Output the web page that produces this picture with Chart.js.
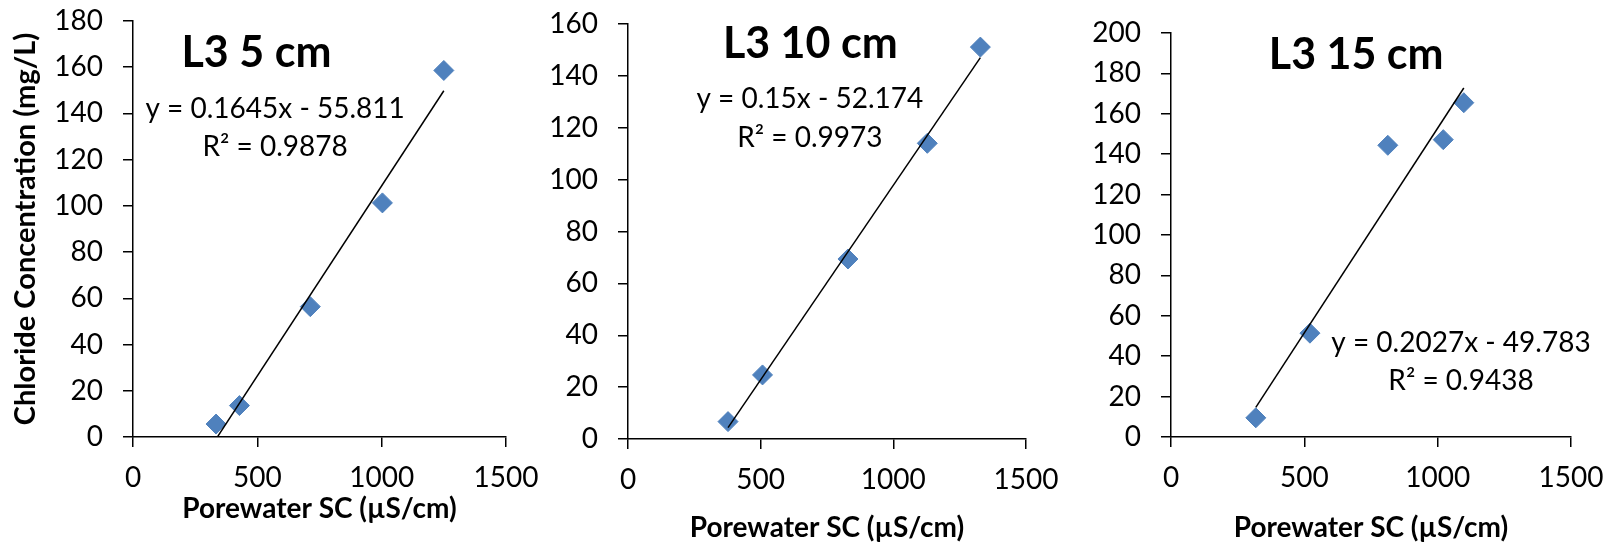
<!DOCTYPE html>
<html>
<head>
<meta charset="utf-8">
<title>L3 chloride vs porewater SC</title>
<script src="https://cdn.jsdelivr.net/npm/chart.js@4.4.0/dist/chart.umd.min.js"></script>
<style>
  body { margin: 0; background: #fff; }
  #wrap { position: relative; width: 1617px; height: 547px; }
  canvas { position: absolute; top: 0; }
</style>
</head>
<body>
<div id="wrap">
  <canvas id="c5" width="540" height="547" style="left:0"></canvas>
  <canvas id="c10" width="540" height="547" style="left:540px"></canvas>
  <canvas id="c15" width="537" height="547" style="left:1080px"></canvas>
</div>
<script>
// L3 5 cm
const sc5 = [334, 428, 713, 1003, 1250];
const cl5 = [5.6, 13.6, 56.4, 101.3, 158.6];
// L3 10 cm
const sc10 = [377, 507, 829, 1128, 1328];
const cl10 = [6.7, 24.7, 69.4, 114, 151.1];
// L3 15 cm
const sc15 = [318, 521, 813, 1021, 1098];
const cl15 = [9.5, 51.4, 144.4, 147.2, 165.5];

// texte des graphiques et droites de tendance
const titles = ['L3 5 cm', 'L3 10 cm', 'L3 15 cm'];
const slopes = [0.1645, 0.15, 0.2027];
const intercepts = [-55.811, -52.174, -49.783];
const rSquared = [0.9878, 0.9973, 0.9438];
const yMax = [180, 160, 200];
const xMax = 1500;

const FONT = 'Lato';
const BLUE = '#4F81BD';

// Plugin pour ecrire le titre et l'equation dans la zone du graphique
const notesPlugin = {
    id: 'notes',
    afterDraw(chart, args, opts) {
        const ctx = chart.ctx;
        const a = chart.chartArea;
        ctx.save();
        ctx.fillStyle = '#000';
        ctx.textAlign = 'center';
        ctx.textBaseline = 'alphabetic';
        opts.items.forEach(it => {
            ctx.font = (it.bold ? 'bold ' : '') + it.size + 'px ' + FONT;
            let x = a.left + it.fx * (a.right - a.left);
            let y = a.top + it.fy * (a.bottom - a.top) + it.size * 0.36;
            ctx.fillText(it.text, x, y);
        });
        ctx.restore();
    }
};

// on enleve le padding auto des axes pour garder la zone voulue
function noPad(s) {
    s.paddingTop = 0;
    s.paddingBottom = 0;
    s.paddingLeft = 0;
    s.paddingRight = 0;
}

function makeChart(id, xs, ys, i, lay) {
    let points = xs.map((x, k) => ({x: x, y: ys[k]}));
    let xLo = Math.min(...xs);
    let xHi = Math.max(...xs);
    let trend = [xLo, xHi].map(x => ({x: x, y: slopes[i] * x + intercepts[i]}));
    let eq = 'y = ' + slopes[i] + 'x - ' + Math.abs(intercepts[i]);
    let r2 = 'R\u00B2 = ' + rSquared[i];

    return new Chart(document.getElementById(id), {
        type: 'scatter',
        data: {
            datasets: [
                {
                    data: trend,
                    showLine: true,
                    borderColor: '#000',
                    borderWidth: 1.5,
                    pointRadius: 0,
                    clip: 0
                },
                {
                    data: points,
                    pointStyle: 'rectRot',
                    pointRadius: 10,
                    backgroundColor: BLUE,
                    borderColor: BLUE,
                    borderWidth: 1
                }
            ]
        },
        options: {
            responsive: false,
            animation: false,
            devicePixelRatio: 1,
            layout: {padding: {top: lay.top, right: lay.right, bottom: 0, left: 0}},
            plugins: {
                legend: {display: false},
                tooltip: {enabled: false},
                notes: {
                    items: [
                        {text: titles[i], bold: true, size: 43, fx: lay.title[0], fy: lay.title[1]},
                        {text: eq, size: 28, fx: lay.eq[0], fy: lay.eq[1]},
                        {text: r2, size: 28, fx: lay.eq[0], fy: lay.eq[2]}
                    ]
                }
            },
            scales: {
                x: {
                    type: 'linear',
                    min: 0,
                    max: xMax,
                    afterFit: s => { s.height = lay.xHeight; noPad(s); },
                    ticks: {stepSize: 500, color: '#000', font: {family: FONT, size: 28}, padding: 14, maxRotation: 0, autoSkip: false, callback: v => String(v)},
                    grid: {drawOnChartArea: false, drawTicks: true, tickLength: 10, color: '#000', lineWidth: 1.5},
                    border: {display: true, color: '#000', width: 1.5},
                    title: {display: true, text: 'Porewater SC (\u00B5S/cm)', color: '#000', font: {family: FONT, size: 28, weight: 'bold'}, padding: {top: 0, bottom: lay.xTitlePad}}
                },
                y: {
                    type: 'linear',
                    min: 0,
                    max: yMax[i],
                    afterFit: s => { s.width = lay.yWidth; noPad(s); },
                    ticks: {stepSize: 20, color: '#000', font: {family: FONT, size: 28}, padding: 20, callback: v => String(v)},
                    grid: {drawOnChartArea: false, drawTicks: true, tickLength: 10, color: '#000', lineWidth: 1.5},
                    border: {display: true, color: '#000', width: 1.5},
                    title: {display: lay.yTitle, text: 'Chloride Concentration (mg/L)', color: '#000', font: {family: FONT, size: 29, weight: 'bold'}, padding: {top: 8, bottom: 0}}
                }
            }
        },
        plugins: [notesPlugin]
    });
}

function drawAll() {
    makeChart('c5', sc5, cl5, 0, {
        top: 21, right: 34, yWidth: 133, xHeight: 110, xTitlePad: 21, yTitle: true,
        title: [0.331, 0.074], eq: [0.381, 0.208, 0.2995]
    });
    makeChart('c10', sc10, cl10, 1, {
        top: 24, right: 54, yWidth: 88, xHeight: 108, xTitlePad: 2, yTitle: false,
        title: [0.458, 0.044], eq: [0.457, 0.179, 0.272]
    });
    makeChart('c15', sc15, cl15, 2, {
        top: 33, right: 46, yWidth: 91, xHeight: 110, xTitlePad: 2, yTitle: false,
        title: [0.463, 0.050], eq: [0.725, 0.765, 0.859]
    });
}

window.onload = function () {
    // attendre la police avant de dessiner
    if (document.fonts && document.fonts.load) {
        Promise.all([
            document.fonts.load('28px ' + FONT),
            document.fonts.load('bold 28px ' + FONT)
        ]).then(drawAll, drawAll);
    } else {
        drawAll();
    }
};
</script>
</body>
</html>
